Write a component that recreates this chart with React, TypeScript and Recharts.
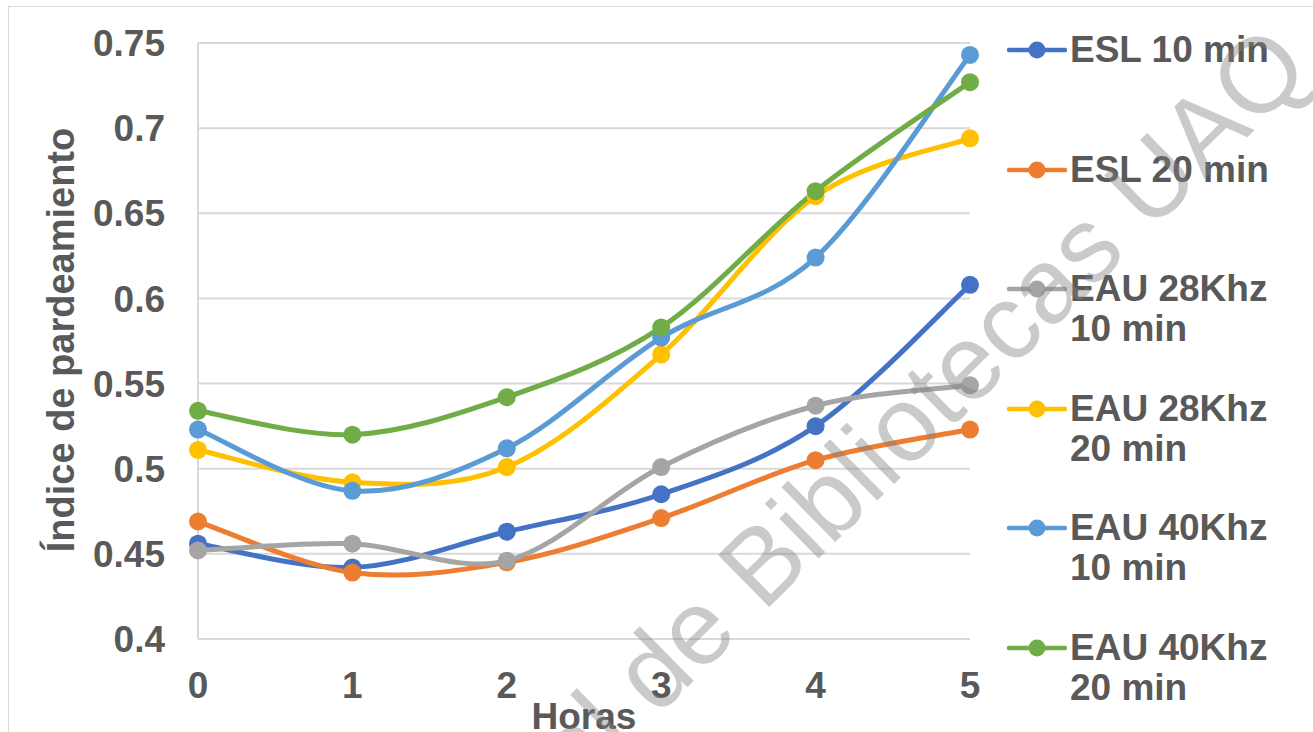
import { LineChart, Line, XAxis, YAxis, CartesianGrid, Legend } from 'recharts'

const hours = [0, 1, 2, 3, 4, 5]
const yTicks = [0.4, 0.45, 0.5, 0.55, 0.6, 0.65, 0.7, 0.75]

const esl10 = [0.456, 0.442, 0.463, 0.485, 0.525, 0.608]
const esl20 = [0.469, 0.439, 0.445, 0.471, 0.505, 0.523]
const eau28k10 = [0.452, 0.456, 0.446, 0.501, 0.537, 0.549]
const eau28k20 = [0.511, 0.492, 0.501, 0.567, 0.66, 0.694]
const eau40k10 = [0.523, 0.487, 0.512, 0.577, 0.624, 0.743]
const eau40k20 = [0.534, 0.52, 0.542, 0.583, 0.663, 0.727]

const series = [
  { key: 'esl10', name: 'ESL 10 min', color: '#4472C4', values: esl10 },
  { key: 'esl20', name: 'ESL 20 min', color: '#ED7D31', values: esl20 },
  { key: 'eau28k10', name: 'EAU 28Khz 10 min', color: '#A5A5A5', values: eau28k10 },
  { key: 'eau28k20', name: 'EAU 28Khz 20 min', color: '#FFC000', values: eau28k20 },
  { key: 'eau40k10', name: 'EAU 40Khz 10 min', color: '#5B9BD5', values: eau40k10 },
  { key: 'eau40k20', name: 'EAU 40Khz 20 min', color: '#70AD47', values: eau40k20 },
]

const data = hours.map((h, i) => {
  const row: Record<string, number> = { hora: h }
  series.forEach((s) => {
    row[s.key] = s.values[i]
  })
  return row
})

const FONT = "'Liberation Sans', Arial, sans-serif"
const TEXT = '#595959'
const FS = 37

// excel-style smoothed line (bezier, 1/6 tangents)
const excelSmooth = (context: any) => {
  let pts: [number, number][] = []
  return {
    areaStart() {},
    areaEnd() {},
    lineStart() {
      pts = []
    },
    point(x: number, y: number) {
      pts.push([+x, +y])
    },
    lineEnd() {
      const n = pts.length
      if (!n) return
      context.moveTo(pts[0][0], pts[0][1])
      for (let i = 0; i < n - 1; i++) {
        const p0 = pts[Math.max(i - 1, 0)]
        const p1 = pts[i]
        const p2 = pts[i + 1]
        const p3 = pts[Math.min(i + 2, n - 1)]
        context.bezierCurveTo(
          p1[0] + (p2[0] - p0[0]) / 6,
          p1[1] + (p2[1] - p0[1]) / 6,
          p2[0] - (p3[0] - p1[0]) / 6,
          p2[1] - (p3[1] - p1[1]) / 6,
          p2[0],
          p2[1]
        )
      }
    },
  }
}

function XTick({ x, y, payload }: any) {
  return (
    <text x={x} y={y} dy="0.71em" textAnchor="middle" fill={TEXT} fontSize={FS} fontWeight="bold" fontFamily={FONT}>
      {payload.value}
    </text>
  )
}

function YTick({ x, y, payload }: any) {
  return (
    <text x={x} y={y} dy="0.355em" textAnchor="end" fill={TEXT} fontSize={FS} fontWeight="bold" fontFamily={FONT}>
      {String(payload.value)}
    </text>
  )
}

function YTitle() {
  return (
    <text transform="translate(74,340) rotate(-90)" textAnchor="middle" fill={TEXT} fontSize={38} fontWeight="bold" fontFamily={FONT}>
      Índice de pardeamiento
    </text>
  )
}

function LegendBox() {
  return (
    <div style={{ width: 300 }}>
      {series.map((s) => (
        <div key={s.key} style={{ height: 119.6, display: 'flex', alignItems: 'flex-start' }}>
          <svg width={60} height={40} style={{ flex: 'none' }}>
            <line x1={2} y1={20} x2={58} y2={20} stroke={s.color} strokeWidth={4.5} strokeLinecap="round" />
            <circle cx={30} cy={20} r={8.5} fill={s.color} />
          </svg>
          <div
            style={{
              marginLeft: 3,
              width: 218,
              fontFamily: FONT,
              fontWeight: 'bold',
              fontSize: FS,
              lineHeight: '40px',
              color: TEXT,
            }}
          >
            {s.name}
          </div>
        </div>
      ))}
    </div>
  )
}

function Watermark() {
  return (
    <svg width={1313} height={732} style={{ position: 'absolute', left: 0, top: 0, pointerEvents: 'none' }}>
      <g transform="translate(763,613) rotate(-44.5)" fill="#808080" fillOpacity={0.42} fontFamily={FONT} fontSize={106}>
        <text x={-31} textAnchor="end">Dirección General de</text>
        <text x={0} textAnchor="start">Bibliotecas UAQ</text>
      </g>
    </svg>
  )
}

export default function App() {
  return (
    <div style={{ position: 'absolute', left: 0, top: 0, width: 1313, height: 732, background: '#fff', overflow: 'hidden' }}>
      <style>{'body{margin:0;overflow:hidden}'}</style>
      <div
        style={{
          position: 'absolute',
          left: 8,
          top: 6,
          width: 1313,
          height: 732,
          borderLeft: '1px solid #D9D9D9',
          borderTop: '1px solid #D9D9D9',
        }}
      />
      <div style={{ position: 'absolute', left: 0, top: 0 }}>
        <LineChart width={1313} height={732} data={data} margin={{ top: 43, right: 343, bottom: 0, left: 0 }}>
          <CartesianGrid vertical={false} stroke="#D9D9D9" strokeWidth={2} />
          <XAxis
            dataKey="hora"
            type="number"
            domain={[0, 5]}
            ticks={hours}
            height={93}
            axisLine={false}
            tickLine={false}
            tickSize={0}
            tickMargin={33}
            tick={<XTick />}
            label={{ value: 'Horas', position: 'insideBottom', offset: 3, fill: TEXT, fontSize: FS, fontWeight: 'bold', fontFamily: FONT }}
          />
          <YAxis
            type="number"
            domain={[0.4, 0.75]}
            ticks={yTicks}
            width={198}
            axisLine={{ stroke: '#D9D9D9', strokeWidth: 2 }}
            tickLine={false}
            tickSize={0}
            tickMargin={33}
            tick={<YTick />}
            label={{ content: <YTitle /> }}
          />
          <Legend
            layout="vertical"
            align="center"
            verticalAlign="middle"
            wrapperStyle={{ left: 1007, top: 30, width: 300 }}
            content={<LegendBox />}
          />
          {series.map((s) => (
            <Line
              key={s.key}
              dataKey={s.key}
              name={s.name}
              type={excelSmooth as any}
              stroke={s.color}
              strokeWidth={5}
              dot={{ r: 9, fill: s.color, stroke: s.color, strokeWidth: 0 }}
              activeDot={false}
              isAnimationActive={false}
            />
          ))}
        </LineChart>
      </div>
      <Watermark />
    </div>
  )
}
